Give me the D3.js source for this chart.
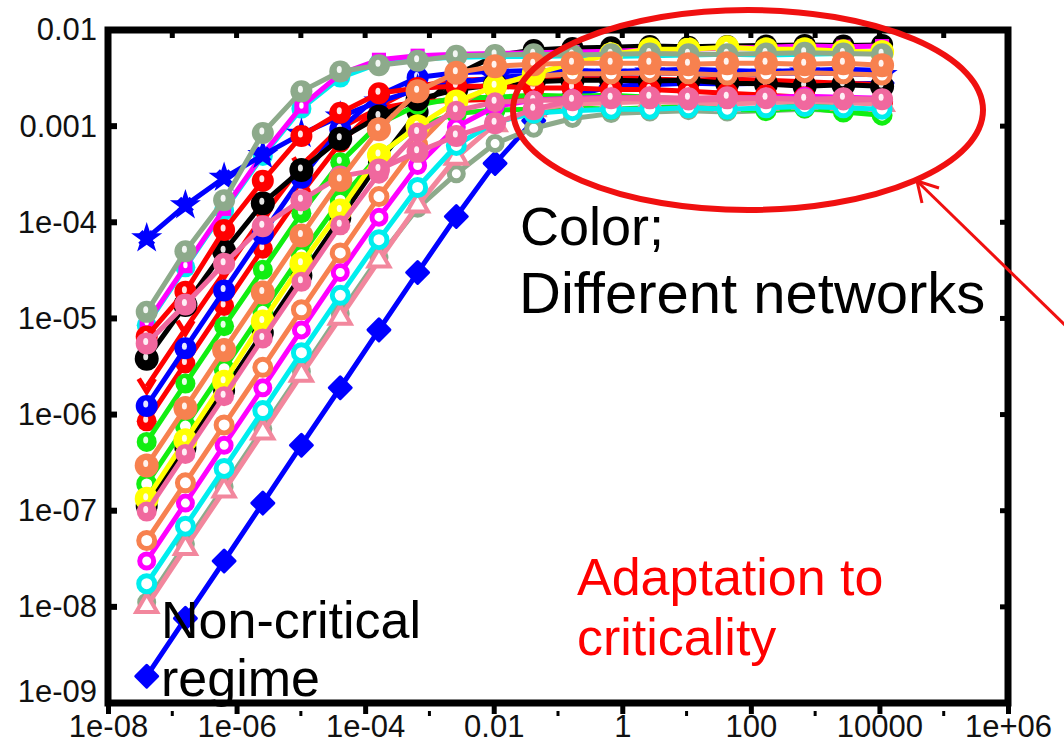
<!DOCTYPE html>
<html><head><meta charset="utf-8">
<script src="https://cdn.jsdelivr.net/npm/d3@7"></script>
<style>
html,body{margin:0;padding:0;background:#fff;}
svg{display:block;font-family:"Liberation Sans",Arial,sans-serif;}
</style></head>
<body>
<svg id="chart" width="1064" height="745"></svg>
<script>
// ---- data ----
const xValues = [4e-8, 1.6e-7, 6.4e-7, 2.56e-6, 1.02e-5, 4.1e-5, 1.64e-4, 6.55e-4, 2.62e-3, 1.05e-2, 4.19e-2, 0.168, 0.671, 2.68, 10.7, 42.9, 172, 687, 2750, 11000];
const xTickValues = [1e-8, 1e-6, 1e-4, 1e-2, 1, 100, 1e4, 1e6];
const xTickLabels = ["1e-08", "1e-06", "1e-04", "0.01", "1", "100", "10000", "1e+06"];
const xMinorTicks = [1e-7, 1e-5, 1e-3, 0.1, 10, 1000, 1e5];
const yTickValues = [1e-9, 1e-8, 1e-7, 1e-6, 1e-5, 1e-4, 1e-3, 1e-2];
const yTickLabels = ["1e-09", "1e-08", "1e-07", "1e-06", "1e-05", "1e-04", "0.001", "0.01"];

const blueStar    = [6.8e-5, 1.5e-4, 2.9e-4, 5.0e-4, 8.3e-4, 1.26e-3, 1.8e-3, 2.4e-3, 2.8e-3, 3.2e-3, 3.4e-3, 3.5e-3, 3.5e-3, 3.6e-3, 3.5e-3, 3.4e-3, 3.5e-3, 3.6e-3, 3.5e-3, 3.4e-3];
const grayTop     = [1.17e-5, 5.0e-5, 1.7e-4, 8.5e-4, 2.3e-3, 3.7e-3, 4.3e-3, 4.8e-3, 5.4e-3, 5.5e-3, 5.6e-3, 5.5e-3, 5.6e-3, 5.7e-3, 5.6e-3, 5.6e-3, 5.7e-3, 5.8e-3, 5.7e-3, 5.6e-3];
const magentaTop  = [8.9e-6, 3.5e-5, 1.38e-4, 5.1e-4, 1.6e-3, 3.5e-3, 4.9e-3, 5.4e-3, 5.6e-3, 5.7e-3, 5.8e-3, 5.9e-3, 6.0e-3, 6.2e-3, 6.3e-3, 6.5e-3, 6.6e-3, 6.8e-3, 6.7e-3, 6.8e-3];
const cyanTop     = [8.5e-6, 3.4e-5, 1.32e-4, 4.9e-4, 1.52e-3, 3.2e-3, 4.5e-3, 5.0e-3, 5.2e-3, 5.3e-3, 5.3e-3, 5.4e-3, 5.3e-3, 5.4e-3, 5.5e-3, 5.6e-3, 5.5e-3, 5.6e-3, 5.7e-3, 5.8e-3];
const redTop      = [6.5e-6, 1.9e-5, 8.3e-5, 2.7e-4, 7.9e-4, 1.38e-3, 2.2e-3, 2.5e-3, 2.6e-3, 2.6e-3, 2.5e-3, 2.5e-3, 2.4e-3, 2.4e-3, 2.3e-3, 2.2e-3, 2.1e-3, 2.0e-3, 1.9e-3, 1.8e-3];
const pinkTop     = [5.5e-6, 1.4e-5, 3.7e-5, 9.1e-5, 1.7e-4, 3.0e-4, 3.55e-4, 5.4e-4, 7.9e-4, 1.07e-3, 1.5e-3, 1.86e-3, 1.95e-3, 2.0e-3, 1.95e-3, 2.0e-3, 1.95e-3, 1.9e-3, 1.95e-3, 1.9e-3];
const blackTop    = [3.8e-6, 1.38e-5, 5.0e-5, 1.58e-4, 3.5e-4, 7.4e-4, 1.26e-3, 1.9e-3, 2.4e-3, 2.7e-3, 2.9e-3, 3.0e-3, 3.0e-3, 2.95e-3, 3.0e-3, 2.8e-3, 2.75e-3, 2.6e-3, 2.7e-3, 2.6e-3];
const redV        = [1.95e-6, 7.8e-6, 3.0e-5, 1.15e-4, 3.9e-4, 9.6e-4, 1.53e-3, 1.8e-3, 1.85e-3, 1.9e-3, 1.9e-3, 1.85e-3, 1.9e-3, 1.95e-3, 1.9e-3, 1.85e-3, 1.9e-3, 1.85e-3, 1.8e-3, 1.75e-3];
const blueCircle  = [1.23e-6, 4.9e-6, 1.95e-5, 7.6e-5, 2.9e-4, 9.3e-4, 2.1e-3, 3.2e-3, 3.6e-3, 3.7e-3, 3.8e-3, 3.8e-3, 3.7e-3, 3.8e-3, 3.9e-3, 3.8e-3, 3.7e-3, 3.8e-3, 3.9e-3, 3.8e-3];
const redMid      = [8.5e-7, 3.4e-6, 1.35e-5, 5.3e-5, 2.0e-4, 6.7e-4, 1.6e-3, 2.6e-3, 3.0e-3, 3.1e-3, 3.2e-3, 3.1e-3, 3.2e-3, 3.1e-3, 3.0e-3, 3.1e-3, 3.0e-3, 2.9e-3, 2.8e-3, 2.7e-3];
const greenTop    = [5.2e-7, 2.1e-6, 8.3e-6, 3.2e-5, 1.24e-4, 4.2e-4, 1.05e-3, 1.66e-3, 1.96e-3, 2.0e-3, 2.1e-3, 2.05e-3, 2.1e-3, 2.0e-3, 1.9e-3, 1.8e-3, 1.85e-3, 1.7e-3, 1.8e-3, 1.7e-3];
const coralTop    = [2.95e-7, 1.17e-6, 4.7e-6, 1.86e-5, 7.3e-5, 2.75e-4, 9.3e-4, 2.3e-3, 3.6e-3, 4.2e-3, 4.4e-3, 4.5e-3, 4.5e-3, 4.5e-3, 4.4e-3, 4.5e-3, 4.5e-3, 4.4e-3, 4.5e-3, 4.3e-3];
const greenLow    = [1.9e-7, 7.6e-7, 3.0e-6, 1.19e-5, 4.6e-5, 1.7e-4, 5.0e-4, 1.0e-3, 1.35e-3, 1.47e-3, 1.5e-3, 1.55e-3, 1.5e-3, 1.55e-3, 1.6e-3, 1.5e-3, 1.45e-3, 1.55e-3, 1.4e-3, 1.3e-3];
const yellow      = [1.33e-7, 5.4e-7, 2.2e-6, 9.3e-6, 3.7e-5, 1.33e-4, 5.0e-4, 1.0e-3, 1.8e-3, 2.6e-3, 3.5e-3, 4.5e-3, 5.6e-3, 6.3e-3, 6.3e-3, 6.6e-3, 6.3e-3, 6.3e-3, 6.0e-3, 5.9e-3];
const blackLow    = [1.12e-7, 4.5e-7, 1.78e-6, 7.1e-6, 2.8e-5, 1.1e-4, 4.2e-4, 1.4e-3, 3.4e-3, 5.4e-3, 6.2e-3, 6.5e-3, 6.6e-3, 6.8e-3, 6.7e-3, 6.8e-3, 6.9e-3, 7.0e-3, 6.9e-3, 7.0e-3];
const pinkLow     = [9.8e-8, 3.9e-7, 1.55e-6, 6.2e-6, 2.4e-5, 9.3e-5, 3.2e-4, 8.6e-4, 1.45e-3, 1.77e-3, 1.85e-3, 1.9e-3, 1.95e-3, 1.9e-3, 1.85e-3, 1.9e-3, 1.95e-3, 1.9e-3, 1.85e-3, 1.9e-3];
const coralLow    = [4.9e-8, 1.95e-7, 7.8e-7, 3.1e-6, 1.23e-5, 4.8e-5, 1.85e-4, 6.4e-4, 1.65e-3, 2.75e-3, 3.3e-3, 3.5e-3, 3.5e-3, 3.6e-3, 3.5e-3, 3.4e-3, 3.5e-3, 3.6e-3, 3.5e-3, 3.4e-3];
const magentaLow  = [3.0e-8, 1.2e-7, 4.8e-7, 1.9e-6, 7.6e-6, 3.0e-5, 1.13e-4, 3.9e-4, 9.8e-4, 1.6e-3, 1.87e-3, 1.95e-3, 2.0e-3, 1.95e-3, 1.9e-3, 1.95e-3, 2.0e-3, 2.05e-3, 2.0e-3, 1.95e-3];
const cyanLow     = [1.74e-8, 6.9e-8, 2.75e-7, 1.1e-6, 4.4e-6, 1.74e-5, 6.6e-5, 2.3e-4, 6.3e-4, 1.1e-3, 1.36e-3, 1.45e-3, 1.5e-3, 1.5e-3, 1.55e-3, 1.5e-3, 1.55e-3, 1.6e-3, 1.55e-3, 1.5e-3];
const grayLow     = [1.12e-8, 4.5e-8, 1.78e-7, 7.1e-7, 2.8e-6, 1.12e-5, 4.3e-5, 1.4e-4, 3.2e-4, 6.6e-4, 9.5e-4, 1.2e-3, 1.35e-3, 1.4e-3, 1.45e-3, 1.4e-3, 1.45e-3, 1.5e-3, 1.45e-3, 1.4e-3];
const pinkTri     = [1.02e-8, 4.1e-8, 1.62e-7, 6.5e-7, 2.6e-6, 1.02e-5, 4.0e-5, 1.5e-4, 4.7e-4, 1.05e-3, 1.5e-3, 1.7e-3, 1.75e-3, 1.8e-3, 1.75e-3, 1.7e-3, 1.75e-3, 1.8e-3, 1.75e-3, 1.7e-3];
const blueDiamond = [1.9e-9, 7.6e-9, 3.0e-8, 1.2e-7, 4.8e-7, 1.9e-6, 7.6e-6, 3.0e-5, 1.15e-4, 4.1e-4, 1.14e-3, 2.05e-3, 2.6e-3, 2.7e-3, 2.8e-3, 2.75e-3, 2.8e-3, 2.7e-3, 2.75e-3, 2.8e-3];

// draw order: first = bottom
const series = [
  {values: blueDiamond, color: "#0000ff", marker: "diamond", r: 10},
  {values: grayLow,     color: "#8daa8b", marker: "ring",    r: 9},
  {values: blackLow,    color: "#000000", marker: "circle",  r: 11},
  {values: cyanTop,     color: "#00eeee", marker: "circle",  r: 10},
  {values: magentaTop,  color: "#ff00ff", marker: "square",  r: 10},
  {values: greenLow,    color: "#11ee11", marker: "ring",    r: 10},
  {values: redMid,      color: "#ff0000", marker: "circle",  r: 10},
  {values: redV,        color: "#ff0000", marker: "v",       r: 8},
  {values: greenTop,    color: "#11ee11", marker: "circle",  r: 10},
  {values: blueCircle,  color: "#0000ff", marker: "circle",  r: 11},
  {values: blueStar,    color: "#0000ff", marker: "star",    r: 10},
  {values: blackTop,    color: "#000000", marker: "circle",  r: 12},
  {values: redTop,      color: "#ff0000", marker: "circle",  r: 11},
  {values: pinkTri,     color: "#f2879d", marker: "tri",     r: 9},
  {values: cyanLow,     color: "#00eeee", marker: "ring",    r: 10},
  {values: magentaLow,  color: "#ff00ff", marker: "ring",    r: 9},
  {values: coralLow,    color: "#f7814f", marker: "ring",    r: 10},
  {values: yellow,      color: "#ffff00", marker: "circle",  r: 12},
  {values: pinkLow,     color: "#f0689e", marker: "circle",  r: 10},
  {values: grayTop,     color: "#8daa8b", marker: "circle",  r: 11},
  {values: pinkTop,     color: "#f0689e", marker: "circle",  r: 11},
  {values: coralTop,    color: "#f7814f", marker: "circle",  r: 12}
];

// ---- chart ----
const svg = d3.select("#chart");
const x = d3.scaleLog().domain([1e-8, 1e6]).range([108, 1008]);
const y = d3.scaleLog().domain([1e-9, 1e-2]).range([703, 30]);

const line = d3.line().x((d, i) => x(xValues[i])).y(d => y(d));

const plot = svg.append("g");
series.forEach(s => {
  const g = plot.append("g");
  g.append("path").attr("d", line(s.values)).attr("fill", "none")
    .attr("stroke", s.color).attr("stroke-width", 5).attr("stroke-linejoin", "round");
  const pts = g.selectAll("g.pt").data(s.values).join("g")
    .attr("transform", (d, i) => `translate(${x(xValues[i])},${y(d)})`);
  if (s.marker === "circle") {
    pts.append("circle").attr("r", s.r).attr("fill", s.color);
    pts.append("ellipse").attr("cx", -1).attr("cy", -2).attr("rx", 2.5).attr("ry", 3.5).attr("fill", "#fff").attr("opacity", 0.9);
  } else if (s.marker === "ring") {
    pts.append("circle").attr("r", s.r - 2).attr("fill", "#fff").attr("stroke", s.color).attr("stroke-width", 5);
  } else if (s.marker === "square") {
    pts.append("path").attr("d", d3.symbol(d3.symbolSquare, 200)).attr("fill", s.color);
    pts.append("ellipse").attr("cx", 0).attr("cy", -1).attr("rx", 2.2).attr("ry", 3.2).attr("fill", "#fff");
  } else if (s.marker === "star") {
    pts.append("path").attr("d", d3.symbol(d3.symbolStar, 300)).attr("fill", s.color);
    pts.append("path").attr("d", d3.symbol(d3.symbolCross, 180)).attr("fill", s.color).attr("transform", "rotate(45)");
  } else if (s.marker === "v") {
    pts.append("path").attr("d", "M-8,-8L0,5L8,-8").attr("fill", "none").attr("stroke", s.color).attr("stroke-width", 5);
  } else if (s.marker === "tri") {
    pts.append("path").attr("d", d3.symbol(d3.symbolTriangle, 190)).attr("fill", "#fff").attr("stroke", s.color).attr("stroke-width", 4);
  } else if (s.marker === "diamond") {
    pts.append("path").attr("d", d3.symbol(d3.symbolSquare, 240)).attr("fill", s.color).attr("transform", "rotate(45)").attr("stroke", s.color).attr("stroke-width", 3).attr("stroke-linejoin", "round");
  }
});

// ---- frame & axes ----
const fr = svg.append("g");
fr.append("rect").attr("x", 108).attr("y", 30).attr("width", 900).attr("height", 673)
  .attr("fill", "none").attr("stroke", "#000").attr("stroke-width", 7);

// bottom axis
const xAxis = d3.axisBottom(x).tickValues(xTickValues).tickFormat((d, i) => xTickLabels[i]).tickSize(11).tickPadding(1);
const gx = svg.append("g").attr("transform", "translate(0,703)").call(xAxis);
gx.select(".domain").remove();
gx.selectAll(".tick line").attr("stroke", "#000").attr("stroke-width", 5);
gx.selectAll(".tick text").attr("font-size", 31).attr("fill", "#111").attr("font-family", "Liberation Sans, Arial, sans-serif");

// minor x ticks
svg.append("g").selectAll("line").data(xMinorTicks).join("line")
  .attr("x1", d => x(d)).attr("x2", d => x(d)).attr("y1", 711).attr("y2", 716)
  .attr("stroke", "#000").attr("stroke-width", 3);

// top ticks (inside) every decade
const decX = xTickValues.concat(xMinorTicks);
svg.append("g").selectAll("line").data(decX).join("line")
  .attr("x1", d => x(d)).attr("x2", d => x(d)).attr("y1", 30).attr("y2", 38)
  .attr("stroke", "#000").attr("stroke-width", 5);

// left axis
const yAxis = d3.axisLeft(y).tickValues(yTickValues).tickFormat((d, i) => yTickLabels[i]).tickSize(0).tickPadding(11);
const gy = svg.append("g").attr("transform", "translate(108,0)").call(yAxis);
gy.select(".domain").remove();
gy.selectAll(".tick text").attr("font-size", 31).attr("fill", "#111").attr("font-family", "Liberation Sans, Arial, sans-serif")
  .attr("dy", (d, i) => i === 0 ? "-0.05em" : "0.32em");

// left & right ticks inside
svg.append("g").selectAll("line").data(yTickValues).join("line")
  .attr("x1", 108).attr("x2", 117).attr("y1", d => y(d)).attr("y2", d => y(d))
  .attr("stroke", "#000").attr("stroke-width", 6);
svg.append("g").selectAll("line").data(yTickValues).join("line")
  .attr("x1", 1000).attr("x2", 1008).attr("y1", d => y(d)).attr("y2", d => y(d))
  .attr("stroke", "#000").attr("stroke-width", 5);

// ---- annotations ----
const ann = svg.append("g").attr("font-family", "Liberation Sans, Arial, sans-serif");
ann.append("text").attr("x", 520).attr("y", 245).attr("font-size", 54).attr("fill", "#000").text("Color;");
ann.append("text").attr("x", 519).attr("y", 313).attr("font-size", 58).attr("fill", "#000").text("Different networks");
ann.append("text").attr("x", 161).attr("y", 638).attr("font-size", 52).attr("fill", "#000").text("Non-critical");
ann.append("text").attr("x", 161).attr("y", 696).attr("font-size", 52).attr("fill", "#000").text("regime");
ann.append("text").attr("x", 577).attr("y", 595).attr("font-size", 52).attr("fill", "#ff0000").text("Adaptation to");
ann.append("text").attr("x", 577).attr("y", 655).attr("font-size", 52).attr("fill", "#ff0000").text("criticality");

ann.append("ellipse").attr("cx", 748).attr("cy", 110).attr("rx", 235).attr("ry", 100)
  .attr("fill", "none").attr("stroke", "#f01010").attr("stroke-width", 6);
ann.append("path").attr("d", "M1068,328L917,181").attr("stroke", "#f01010").attr("stroke-width", 3).attr("fill", "none");
ann.append("path").attr("d", "M939,188L917,181L922,203").attr("stroke", "#f01010").attr("stroke-width", 3).attr("fill", "none").attr("stroke-linejoin", "miter");
</script>
</body></html>
